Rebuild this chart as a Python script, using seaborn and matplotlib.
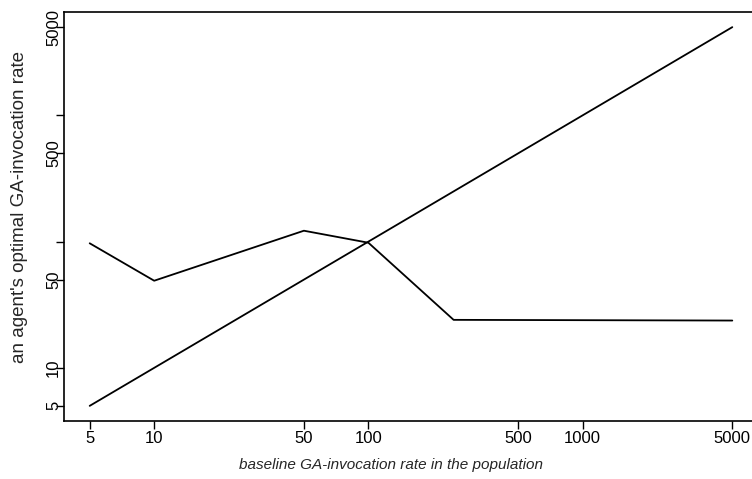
import numpy as np
import pandas as pd
import matplotlib
matplotlib.use("Agg")
import matplotlib.pyplot as plt
import seaborn as sns

# data
baseline_rate = [5, 10, 50, 100, 250, 5000]
optimal_rate = [97, 49, 122, 98, 24, 23.7]
identity_rate = [5, 10, 50, 100, 250, 5000]
x_ticks = [5, 10, 50, 100, 500, 1000, 5000]
x_ticklabels = ["5", "10", "50", "100", "500", "1000", "5000"]
y_ticks = [5, 10, 50, 100, 500, 1000, 5000]
y_ticklabels = ["5", "10", "50", "", "500", "", "5000"]

sns.set_style("ticks")
plt.rcParams['font.family'] = ['Liberation Sans', 'DejaVu Sans']

df = pd.DataFrame({
    "baseline": baseline_rate * 2,
    "rate": optimal_rate + identity_rate,
    "series": ["optimal"] * len(baseline_rate) + ["identity"] * len(identity_rate),
})

W, H = 752, 479
L, R, T, B = 64, 758, 12, 421
fig = plt.figure(figsize=(W / 100, H / 100), dpi=100)
ax = fig.add_axes([L / W, (H - B) / H, (R - L) / W, (B - T) / H])

sns.lineplot(data=df, x="baseline", y="rate", units="series", estimator=None,
             color="black", lw=1.3, ax=ax, legend=False, sort=False)

ax.set_xscale("log")
ax.set_yscale("log")
pad = 0.12
ax.set_xlim(10 ** (np.log10(5) - pad), 10 ** (np.log10(5000) + pad))
ax.set_ylim(10 ** (np.log10(5) - pad), 10 ** (np.log10(5000) + pad))

ax.xaxis.set_minor_locator(matplotlib.ticker.NullLocator())
ax.yaxis.set_minor_locator(matplotlib.ticker.NullLocator())
ax.set_xticks(x_ticks)
ax.set_xticklabels(x_ticklabels)
ax.set_yticks(y_ticks)
ax.set_yticklabels(y_ticklabels, rotation=90, va="center")

for s in ax.spines.values():
    s.set_visible(True)
    s.set_linewidth(1.2)
    s.set_color("black")

ax.tick_params(axis="both", direction="out", length=6, width=1, colors="black",
               labelsize=12)
ax.tick_params(axis="x", pad=1)
ax.tick_params(axis="y", pad=-4)

ax.set_xlabel("baseline GA-invocation rate in the population", fontsize=11,
              style="italic")
ax.xaxis.label.set_va("center")
ax.xaxis.set_label_coords((391 - L) / (R - L), (B - 465) / (B - T))

ax.set_ylabel("an agent's optimal GA-invocation rate", fontsize=13.5)
ax.yaxis.label.set_va("center")
ax.yaxis.set_label_coords((20 - L) / (R - L), (B - 207) / (B - T))

fig.savefig("out.png", dpi=100)
